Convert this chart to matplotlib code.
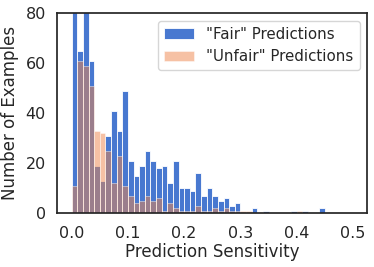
import numpy as np
import matplotlib
matplotlib.use("Agg")
import matplotlib.pyplot as plt

# Histogram bin edges (bin width 0.01 from 0 to 0.5)
bin_start = 0.0
bin_width = 0.01
n_bins = 50

fair_counts = [98, 65, 90, 61, 19, 13, 31, 41, 33, 49,
               21, 15, 19, 25, 21, 18, 19, 12, 21, 10,
               10, 9, 16, 7, 10, 7, 5, 6, 3, 4,
               0, 0, 2, 0, 1, 0, 0, 0, 0, 1,
               0, 1, 0, 0, 2, 0, 0, 0, 0, 0]
unfair_counts = [11, 61, 59, 51, 33, 32, 25, 12, 23, 11,
                 7, 4, 5, 7, 5, 6, 1, 4, 2, 1,
                 1, 1, 3, 1, 1, 2, 1, 2, 1, 1,
                 1, 1, 0, 0, 0, 0, 0, 0, 0, 0,
                 1, 0, 0, 0, 0, 0, 0, 0, 0, 0]

x_ticks = [0.0, 0.1, 0.2, 0.3, 0.4, 0.5]
y_ticks = [0, 20, 40, 60, 80]

text_color = "#262626"
plt.rcParams["font.family"] = ["DejaVu Sans"]

fig = plt.figure(figsize=(3.74, 2.67), dpi=100)
ax = fig.add_axes([0.1524, 0.2022, 0.8289, 0.7491])

edges = bin_start + bin_width * np.arange(n_bins)
ax.bar(edges, fair_counts, width=bin_width, align="edge", color="#4878d0",
       edgecolor="white", linewidth=0.6, label='"Fair" Predictions')
ax.bar(edges, unfair_counts, width=bin_width, align="edge", color="#ee854a",
       alpha=0.5, edgecolor="white", linewidth=0.6, label='"Unfair" Predictions')

ax.set_ylim(0, 80)
ax.set_xlim(-0.026, 0.525)
ax.set_xticks(x_ticks)
ax.set_xticklabels([f"{t:.1f}" for t in x_ticks])
ax.set_yticks(y_ticks)
ax.tick_params(length=0, labelsize=11.5, colors=text_color)
ax.tick_params(axis="x", pad=9)
ax.tick_params(axis="y", pad=8)
ax.set_xlabel("Prediction Sensitivity", fontsize=12, color=text_color, labelpad=2)
ax.set_ylabel("Number of Examples", fontsize=12, color=text_color, labelpad=5)
for s in ax.spines.values():
    s.set_color(text_color)
    s.set_linewidth(1.25)

leg = ax.legend(loc="upper right", fontsize=10.8, frameon=True, fancybox=True,
                borderaxespad=0.5)
leg.get_frame().set_edgecolor("#cccccc")
for t in leg.get_texts():
    t.set_color(text_color)

fig.savefig("out.png", dpi=100)
